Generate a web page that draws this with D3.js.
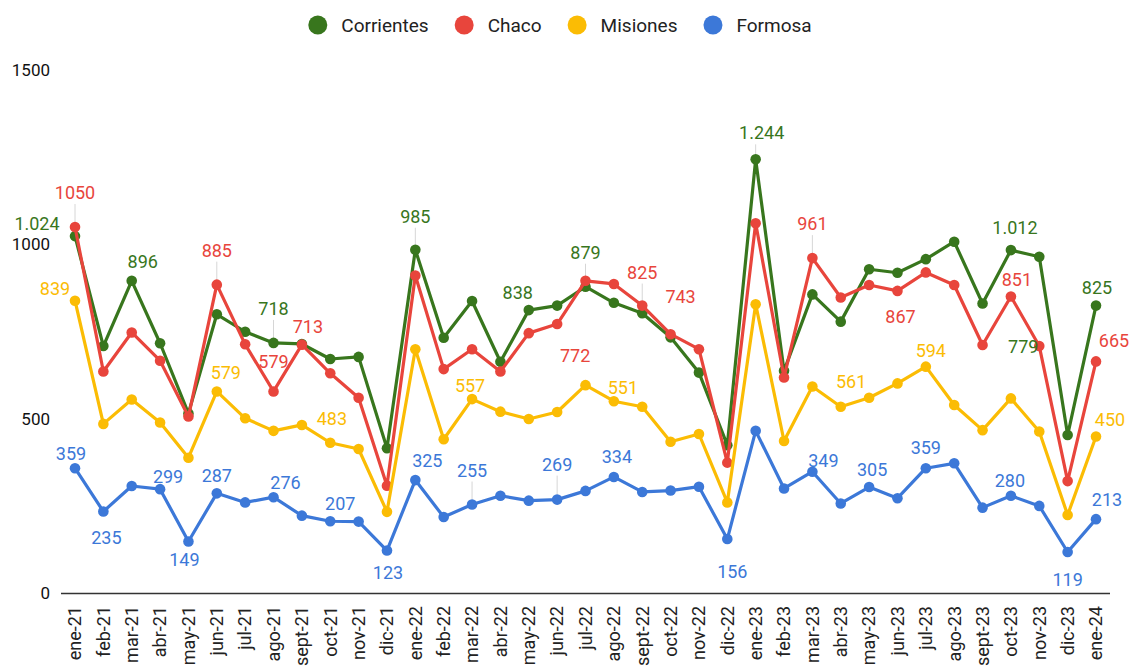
<!DOCTYPE html>
<html>
<head>
<meta charset="utf-8">
<script src="https://cdnjs.cloudflare.com/ajax/libs/d3/7.8.5/d3.min.js"></script>
<style>
body { margin: 0; background: #fff; }
text { font-family: Roboto, "Noto Sans", Arial, sans-serif; }
</style>
</head>
<body>
<svg id="chart" width="1129" height="666"></svg>
<script>
// months on the x axis
var months = ["ene-21","feb-21","mar-21","abr-21","may-21","jun-21","jul-21","ago-21","sept-21","oct-21","nov-21","dic-21",
    "ene-22","feb-22","mar-22","abr-22","may-22","jun-22","jul-22","ago-22","sept-22","oct-22","nov-22","dic-22",
    "ene-23","feb-23","mar-23","abr-23","may-23","jun-23","jul-23","ago-23","sept-23","oct-23","nov-23","dic-23","ene-24"];

var corrientes = [1024,709,896,717,516,800,750,718,715,672,678,416,985,733,838,664,812,825,879,833,803,734,633,425,1244,638,857,779,929,919,958,1008,831,984,965,454,825];
var chaco = [1050,636,748,667,507,885,714,579,713,631,561,309,911,643,700,636,746,772,896,887,825,743,700,375,1061,619,961,848,884,867,920,884,712,851,709,322,665];
var misiones = [839,486,556,490,389,579,502,466,483,432,414,234,700,442,557,521,500,520,597,551,535,435,457,261,829,437,593,535,561,602,650,540,468,559,464,225,450];
var formosa = [359,235,308,299,149,287,261,276,223,207,206,123,325,219,255,280,266,269,294,334,291,295,306,156,466,301,349,258,305,273,359,373,246,280,251,119,213];

var seriesNames = ["Corrientes", "Chaco", "Misiones", "Formosa"];
var yTicks = [0, 500, 1000, 1500];

// value labels shown on the chart: [point index, text]
var corrientesLabels = [[0,"1.024"],[2,"896"],[7,"718"],[12,"985"],[16,"838"],[18,"879"],[24,"1.244"],[33,"1.012"],[34,"779"],[36,"825"]];
var chacoLabels = [[0,"1050"],[5,"885"],[7,"579"],[8,"713"],[17,"772"],[20,"825"],[21,"743"],[26,"961"],[29,"867"],[33,"851"],[36,"665"]];
var misionesLabels = [[0,"839"],[5,"579"],[8,"483"],[14,"557"],[19,"551"],[28,"561"],[30,"594"],[36,"450"]];
var formosaLabels = [[0,"359"],[1,"235"],[3,"299"],[4,"149"],[5,"287"],[7,"276"],[9,"207"],[11,"123"],[12,"325"],[14,"255"],[17,"269"],[19,"334"],[23,"156"],[26,"349"],[28,"305"],[30,"359"],[33,"280"],[35,"119"],[36,"213"]];

// ---- layout / style ----
var colors = ["#38761d", "#e8453c", "#fbbc04", "#3c78d8"];

// label offsets from its point [dx, dy to baseline, leader line]
var labelOffsets = {
    "Corrientes": {0:[-38,-6],2:[11,-13],7:[0,-28,1],12:[0,-27,1],16:[-11,-11],18:[0,-28,1],24:[6,-20,1],33:[4,-16],34:[-16,96],36:[1,-12]},
    "Chaco": {0:[0,-28,1],5:[0,-28,1],7:[0,-23],8:[6,-12],17:[18,38],20:[0,-27,1],21:[10,-31],26:[0,-28,1],29:[3,32],33:[6,-11],36:[18,-14]},
    "Misiones": {0:[-20,-6],5:[9,-12],8:[30,0],14:[-2,-7],19:[9,-7],28:[-18,-10],30:[5,-10],36:[14,-10]},
    "Formosa": {0:[-4,-8],1:[3,33],3:[8,-6],4:[-4,25],5:[0,-11],7:[12,-8],9:[10,-11],11:[1,28],12:[12,-13],14:[0,-28,1],17:[0,-29,1],
        19:[3,-14],23:[5,39],26:[11,-5],28:[3,-11],30:[0,-14],33:[-1,-9],35:[0,34],36:[11,-13]}
};

var svg = d3.select("#chart");

var x = d3.scalePoint().domain(months).range([75, 1096]);
var y = d3.scaleLinear().domain([0, 1500]).range([593.5, 70]);

var series = [
    {name: seriesNames[0], values: corrientes, labels: corrientesLabels, color: colors[0]},
    {name: seriesNames[1], values: chaco, labels: chacoLabels, color: colors[1]},
    {name: seriesNames[2], values: misiones, labels: misionesLabels, color: colors[2]},
    {name: seriesNames[3], values: formosa, labels: formosaLabels, color: colors[3]}
];

// y tick labels (no gridlines in the original)
svg.append("g").selectAll("text")
    .data(yTicks)
    .enter().append("text")
    .attr("x", 50)
    .attr("y", function(d) { return y(d); })
    .attr("dy", "0.35em")
    .attr("text-anchor", "end")
    .attr("font-size", "17px")
    .attr("fill", "#111")
    .text(function(d) { return d; });

// baseline
svg.append("line")
    .attr("x1", 61).attr("x2", 1110)
    .attr("y1", y(0)).attr("y2", y(0))
    .attr("stroke", "#333")
    .attr("stroke-width", 1.3);

// x labels, rotated
svg.append("g").selectAll("text")
    .data(months)
    .enter().append("text")
    .attr("transform", function(d) { return "translate(" + x(d) + ",606) rotate(-90)"; })
    .attr("dy", "0.35em")
    .attr("text-anchor", "end")
    .attr("font-size", "18px")
    .attr("fill", "#222")
    .text(function(d) { return d; });

var line = d3.line()
    .x(function(d, i) { return x(months[i]); })
    .y(function(d) { return y(d); });

var leaders = svg.append("g");
var marks = svg.append("g");
var labelLayer = svg.append("g");

series.forEach(function(s) {
    var g = marks.append("g");
    g.append("path")
        .datum(s.values)
        .attr("d", line)
        .attr("fill", "none")
        .attr("stroke", s.color)
        .attr("stroke-width", 3.2)
        .attr("stroke-linejoin", "round");
    g.selectAll("circle")
        .data(s.values)
        .enter().append("circle")
        .attr("cx", function(d, i) { return x(months[i]); })
        .attr("cy", function(d) { return y(d); })
        .attr("r", 5.3)
        .attr("fill", s.color);

    s.labels.forEach(function(l) {
        var idx = l[0];
        var off = labelOffsets[s.name][idx] || [0, -10];
        var px = x(months[idx]);
        var py = y(s.values[idx]);
        if (off[2]) {
            leaders.append("line")
                .attr("x1", px).attr("x2", px)
                .attr("y1", py - 5)
                .attr("y2", py + off[1] + 5)
                .attr("stroke", "#d6d6d6")
                .attr("stroke-width", 1);
        }
        labelLayer.append("text")
            .attr("x", px + off[0])
            .attr("y", py + off[1])
            .attr("text-anchor", "middle")
            .attr("font-size", "18px")
            .attr("fill", s.color)
            .text(l[1]);
    });
});

// legend
var legend = svg.append("g");
var lx = 0;
series.forEach(function(s) {
    var item = legend.append("g").attr("transform", "translate(" + lx + ",0)");
    item.append("circle").attr("cx", 9.5).attr("cy", 25).attr("r", 9.5).attr("fill", s.color);
    var t = item.append("text")
        .attr("x", 33)
        .attr("y", 25)
        .attr("dy", "0.35em")
        .attr("font-size", "19px")
        .attr("fill", "#222")
        .text(s.name);
    lx += 33 + t.node().getComputedTextLength() + 26;
});
var legendW = lx - 26;
legend.attr("transform", "translate(" + (560 - legendW / 2) + ",0)");
</script>
</body>
</html>
